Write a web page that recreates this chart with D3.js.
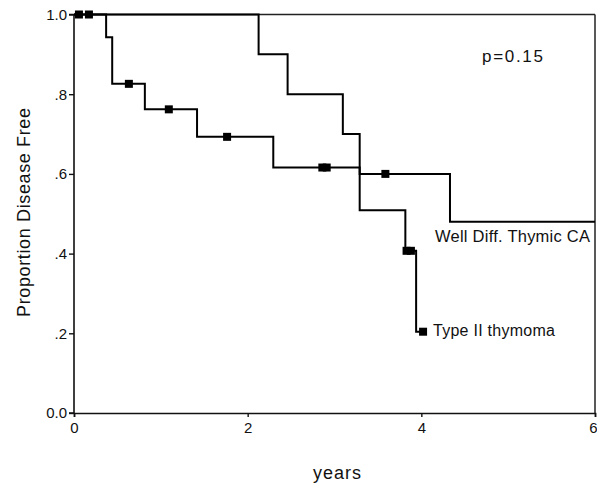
<!DOCTYPE html>
<html>
<head>
<meta charset="utf-8">
<script src="https://cdn.jsdelivr.net/npm/d3@7/dist/d3.min.js"></script>
<style>
  html, body { margin: 0; padding: 0; background: #fff; }
  svg { display: block; font-family: "Liberation Sans", Arial, Helvetica, sans-serif; }
</style>
</head>
<body>
<svg id="chart" width="597" height="485"></svg>
<script>
// ---- Data ----
const xTicks = [0, 2, 4, 6];
const yTicks = [0, 0.2, 0.4, 0.6, 0.8, 1.0];
const yTickLabels = ["0.0", ".2", ".4", ".6", ".8", "1.0"];

// Type II thymoma: step times and survival after each step
const type2Times = [0, 0.37, 0.44, 0.816, 1.417, 2.295, 3.29, 3.816, 3.94];
const type2Surv  = [1.0, 0.943, 0.826, 0.762, 0.693, 0.616, 0.509, 0.407, 0.204];
const type2End = 4.02;
const type2Censor = [0.057, 0.172, 0.632, 1.092, 1.763, 2.86, 2.91, 3.83, 3.88, 4.02];

// Well Diff. Thymic CA
const wdTimes = [0, 2.126, 2.46, 3.096, 3.29, 4.33];
const wdSurv  = [1.0, 0.9, 0.8, 0.7, 0.6, 0.48];
const wdEnd = 6.0;
const wdCensor = [3.586];

const pLabel = "p=0.15";
const series1Label = "Well Diff. Thymic CA";
const series2Label = "Type II thymoma";

// ---- Layout ----
const svg = d3.select("#chart");
const x = d3.scaleLinear().domain([0, 6]).range([74, 595]);
const y = d3.scaleLinear().domain([0, 1]).range([413, 14.5]);

function stepPoints(times, surv, end) {
  const pts = times.map((t, i) => [t, surv[i]]);
  pts.push([end, surv[surv.length - 1]]);
  return pts;
}
function survAt(times, surv, t) {
  let v = surv[0];
  for (let i = 0; i < times.length; i++) if (times[i] <= t) v = surv[i];
  return v;
}

const line = d3.line().x(d => x(d[0])).y(d => y(d[1])).curve(d3.curveStepAfter);

// frame (top and right)
svg.append("line").attr("x1", x(0)).attr("x2", x(6)).attr("y1", y(1)).attr("y2", y(1))
  .attr("stroke", "#222").attr("stroke-width", 1.5);
svg.append("line").attr("x1", x(6)).attr("x2", x(6)).attr("y1", y(1)).attr("y2", y(0))
  .attr("stroke", "#222").attr("stroke-width", 1.5);

// axes
const xAxis = d3.axisBottom(x).tickValues(xTicks).tickFormat(d3.format("d")).tickSize(4).tickPadding(5);
const yAxis = d3.axisLeft(y).tickValues(yTicks).tickFormat((d, i) => yTickLabels[i]).tickSize(5).tickPadding(2);

const gx = svg.append("g").attr("transform", `translate(0,${y(0)})`).call(xAxis);
const gy = svg.append("g").attr("transform", `translate(${x(0)},0)`).call(yAxis);
[gx, gy].forEach(g => {
  g.select(".domain").attr("stroke", "#111").attr("stroke-width", 1.6);
  g.selectAll(".tick line").attr("stroke", "#111").attr("stroke-width", 1.4);
  g.selectAll(".tick text").attr("fill", "#111").attr("font-size", 15)
    .attr("font-family", '"Liberation Sans", Arial, sans-serif');
});
gy.select(".domain").attr("d", `M-5,${y(1)}H0V${y(0)}H-5`);
// last x tick label sits at the window edge: anchor it at its right side so it stays visible
gx.selectAll(".tick text").filter(d => d === 6).attr("text-anchor", "end").attr("dx", 2);

// curves
svg.append("path").datum(stepPoints(wdTimes, wdSurv, wdEnd)).attr("d", line)
  .attr("fill", "none").attr("stroke", "#000").attr("stroke-width", 2);
svg.append("path").datum(stepPoints(type2Times, type2Surv, type2End)).attr("d", line)
  .attr("fill", "none").attr("stroke", "#000").attr("stroke-width", 2);

// censor marks
const sq = 8;
svg.selectAll("rect.c2").data(type2Censor).enter().append("rect")
  .attr("x", d => x(d) - sq / 2).attr("y", d => y(survAt(type2Times, type2Surv, d)) - sq / 2)
  .attr("width", sq).attr("height", sq).attr("fill", "#000");
svg.selectAll("rect.c1").data(wdCensor).enter().append("rect")
  .attr("x", d => x(d) - sq / 2).attr("y", d => y(survAt(wdTimes, wdSurv, d)) - sq / 2)
  .attr("width", sq).attr("height", sq).attr("fill", "#000");

// labels
svg.append("text").attr("x", 482).attr("y", 62).attr("font-size", 17)
  .attr("textLength", 61).attr("lengthAdjust", "spacing").attr("fill", "#111").text(pLabel);
svg.append("text").attr("x", 435).attr("y", 242).attr("font-size", 16.5)
  .attr("textLength", 155).attr("lengthAdjust", "spacing").attr("fill", "#111").text(series1Label);
svg.append("text").attr("x", 433).attr("y", 336).attr("font-size", 16)
  .attr("textLength", 122).attr("lengthAdjust", "spacing").attr("fill", "#111").text(series2Label);

// axis titles
svg.append("text").attr("x", 313).attr("y", 479).attr("font-size", 18)
  .attr("textLength", 48).attr("lengthAdjust", "spacing").attr("fill", "#111").text("years");
svg.append("text").attr("transform", "translate(30,212.5) rotate(-90)")
  .attr("text-anchor", "middle").attr("font-size", 18)
  .attr("textLength", 209).attr("lengthAdjust", "spacing").attr("fill", "#111")
  .text("Proportion Disease Free");
</script>
</body>
</html>
